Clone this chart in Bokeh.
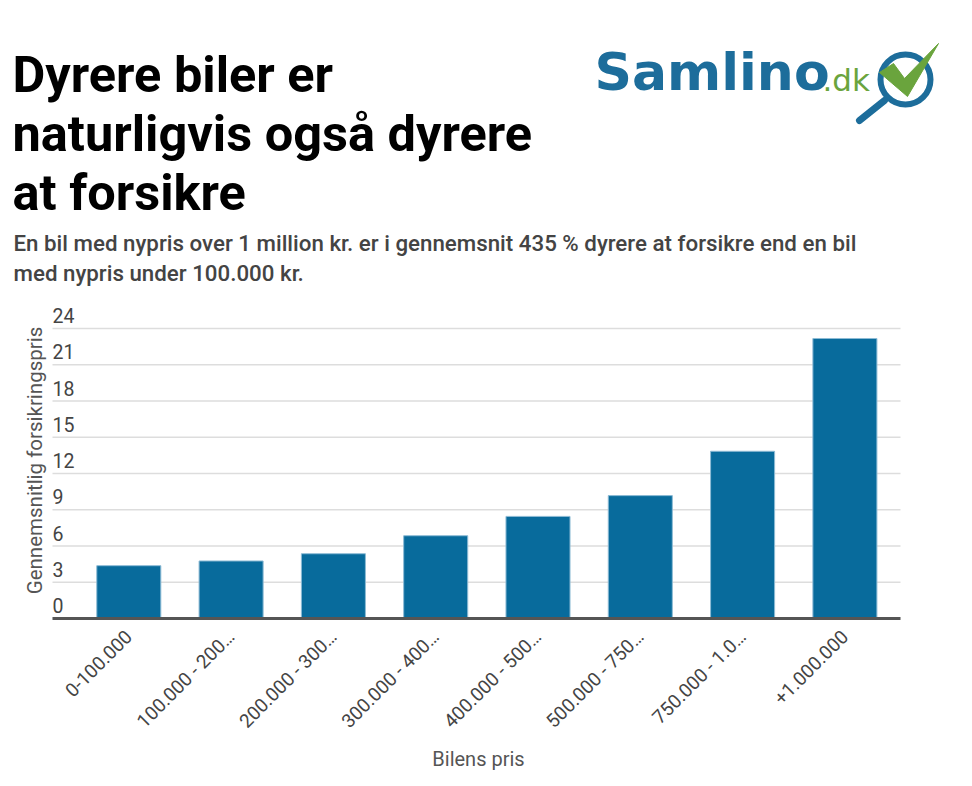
from math import pi
from bokeh.plotting import figure
from bokeh.models import Range1d, FixedTicker
from bokeh.layouts import column
from bokeh.embed import file_html
from bokeh.resources import INLINE
from bokeh.core.properties import value

# ---------------- data ----------------
categories = ["0-100.000", "100.000 - 200…", "200.000 - 300…", "300.000 - 400…",
              "400.000 - 500…", "500.000 - 750…", "750.000 - 1.0…", "+1.000.000"]
values = [4.37, 4.76, 5.36, 6.85, 8.45, 10.17, 13.84, 23.17]
yticks = [0, 3, 6, 9, 12, 15, 18, 21, 24]

title_lines = ["Dyrere biler er", "naturligvis også dyrere", "at forsikre"]
subtitle_lines = ["En bil med nypris over 1 million kr. er i gennemsnit 435 % dyrere at forsikre end en bil",
                  "med nypris under 100.000 kr."]
x_title = "Bilens pris"
y_title = "Gennemsnitlig forsikringspris"

BLUE = "#086b9c"
LOGO_BLUE = "#1d6d9b"
LOGO_GREEN = "#6aa43d"
W = 956

# ---------------- header (pixel coordinates) ----------------
HDR_H = 300
hdr = figure(width=W, height=HDR_H, x_range=Range1d(0, W), y_range=Range1d(HDR_H, 0),
             output_backend="svg", toolbar_location=None, min_border=0,
             min_border_left=0, min_border_right=0, min_border_top=0, min_border_bottom=0,
             x_axis_location=None, y_axis_location=None)
hdr.xgrid.visible = False
hdr.ygrid.visible = False
hdr.outline_line_color = None

hdr.text(x=[12] * 3, y=[74, 133, 192], text=title_lines,
         text_font=value("Roboto"), text_font_style="bold", text_font_size="50.5px",
         text_color="#000000", text_baseline="middle")
hdr.text(x=[13] * 2, y=[242, 272], text=subtitle_lines,
         text_font=value("Roboto Medium, Roboto"), text_font_size="22.3px",
         text_color="#444444", text_baseline="middle")

# logo
hdr.text(x=[594], y=[71], text=["Samlino"], text_font=value("DejaVu Sans"),
         text_font_style="bold", text_font_size="52px", text_color=LOGO_BLUE,
         text_baseline="middle")
hdr.text(x=[822], y=[79], text=[".dk"], text_font=value("DejaVu Sans"),
         text_font_size="31px", text_color=LOGO_GREEN, text_baseline="middle")
hdr.circle(x=[905], y=[79], radius=25, fill_color=None, line_color=LOGO_BLUE, line_width=6)
hdr.line(x=[884, 859], y=[100, 120], line_width=7, line_color=LOGO_BLUE, line_cap="round")
hdr.patch(x=[879, 893, 904, 938, 907], y=[72, 63, 78, 43, 96], color=LOGO_GREEN)

# ---------------- chart ----------------
CH_H = 478            # chart figure: page y 300..778
TOP, BOTTOM = 0, 160   # frame page y 300..618
PX_PER_CAT = 102.3
FIRST_CENTER_PX = 128.3
GRID_LEFT_PX, GRID_RIGHT_PX = 52, 900
ppu_y = 290 / 24       # pixels per unit on the value axis

x_start = -FIRST_CENTER_PX / PX_PER_CAT
x_end = x_start + W / PX_PER_CAT
gl = x_start + GRID_LEFT_PX / PX_PER_CAT
gr = x_start + GRID_RIGHT_PX / PX_PER_CAT
y_end = (CH_H - TOP - BOTTOM) / ppu_y

n = len(categories)
xs = list(range(n))
p = figure(width=W, height=CH_H, x_range=Range1d(x_start, x_end),
           y_range=Range1d(0, y_end), output_backend="svg", toolbar_location=None,
           y_axis_location=None, min_border_left=0, min_border_right=0,
           min_border_top=TOP, min_border_bottom=BOTTOM)
p.outline_line_color = None
p.xgrid.visible = False
p.ygrid.visible = False

# horizontal grid lines at the y ticks
p.segment(x0=[gl] * len(yticks), x1=[gr] * len(yticks), y0=yticks, y1=yticks,
          line_color="#dddddd", line_width=1.5)

p.vbar(x=xs, top=values, bottom=0, width=0.626, fill_color=BLUE,
       line_color="#8dbbd5", line_width=1)

# y tick labels sitting above the grid lines
p.text(x=[gl] * len(yticks), y=yticks, text=[str(t) for t in yticks],
       text_font=value("Roboto"), text_font_size="19.5px", text_color="#444444",
       text_baseline="middle", text_align="left", y_offset=-13)

# y axis title (rotated), centred at page (34, 460)
p.text(x=[x_start + 34 / PX_PER_CAT], y=[(618 - 460) / ppu_y],
       text=[y_title], angle=pi / 2, text_font=value("Roboto"), text_font_size="20.5px",
       text_color="#555555", text_baseline="middle", text_align="center")

xa = p.xaxis[0]
xa.bounds = (gl, gr)
xa.ticker = FixedTicker(ticks=xs)
xa.major_label_overrides = {i: c for i, c in enumerate(categories)}
xa.major_label_orientation = pi / 4
xa.major_label_text_font = "Roboto"
xa.major_label_text_font_size = "19px"
xa.major_label_text_color = "#444444"
xa.major_label_standoff = 9
xa.major_tick_line_color = None
xa.minor_tick_line_color = None
xa.axis_line_color = "#555555"
xa.axis_line_width = 3
xa.axis_label = x_title
xa.axis_label_text_font = "Roboto"
xa.axis_label_text_font_size = "20px"
xa.axis_label_text_font_style = "normal"
xa.axis_label_text_color = "#555555"
xa.axis_label_standoff = 3

layout = column(hdr, p, spacing=0)
open("out.html", "w").write(file_html(layout, INLINE))
